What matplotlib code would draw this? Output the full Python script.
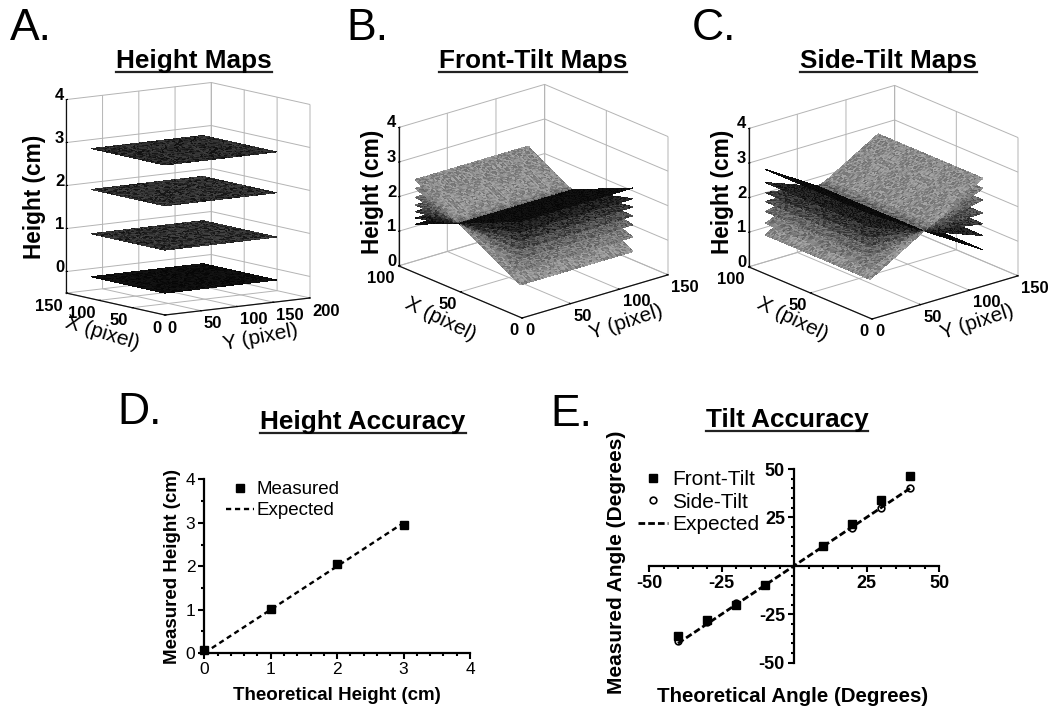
import numpy as np
import matplotlib
matplotlib.use('Agg')
import matplotlib.pyplot as plt
from matplotlib.lines import Line2D
from matplotlib.ticker import MultipleLocator
from mpl_toolkits.mplot3d import proj3d
from mpl_toolkits.mplot3d.art3d import Poly3DCollection

plt.rcParams['font.family'] = ['Liberation Sans', 'DejaVu Sans']
plt.rcParams['axes.unicode_minus'] = False

W, H = 1050, 723

# height maps: one level per plane (cm)
height_levels = [-0.09, 0.91, 1.94, 2.89]
height_shades = [0.05, 0.17, 0.17, 0.15]

# front-tilt maps: height at the low X edge and the high X edge of each plane
front_low = [0.69, 1.11, 1.465, 1.725, 1.98, 2.22, 2.53]
front_high = [2.46, 2.20, 1.945, 1.72, 1.53, 1.34, 1.16]
front_shades = [0.55, 0.48, 0.40, 0.30, 0.2, 0.12, 0.05]

# side-tilt maps: height at the low Y edge and the high Y edge of each plane
side_low = [0.88, 1.22, 1.56, 1.85, 2.11, 2.40, 2.78]
side_high = [2.84, 2.55, 2.21, 1.83, 1.52, 1.18, 0.77]
side_shades = [0.55, 0.48, 0.40, 0.30, 0.2, 0.12, 0.04]

# height accuracy
theoretical_height = [0, 1, 2, 3]
measured_height = [0.08, 1.01, 2.05, 2.96]

# tilt accuracy
theoretical_angle = [-40, -30, -20, -10, 10, 20, 30, 40]
expected_angle = [-40, 40]
front_tilt = [-36, -27.7, -20.3, -10, 10, 21.5, 34, 46.5]
side_tilt = [-39, -29, -19.3, -10, 10, 19.3, 29.8, 40]

# fixed speckle offsets for the grain of the maps (colour only, not heights)
grain = [0.09, -0.07, 0.03, -0.1, 0.12, -0.02, 0.06, -0.12, 0.0, 0.1, -0.05, 0.04, -0.09,
         0.07, -0.11, 0.02, 0.11, -0.04, -0.08, 0.05, 0.01, -0.06, 0.08, -0.03, 0.1, -0.1,
         0.04, -0.01, 0.06]

fig = plt.figure(figsize=(W / 100, H / 100), dpi=100)


def px_text(x, y, s, **kw):
    return fig.text(x / W, 1 - y / H, s, ha=kw.pop('ha', 'center'), va=kw.pop('va', 'center'), **kw)


def title(x, y, s):
    t = px_text(x, y, s, fontsize=18.8, fontweight='bold')
    bb = t.get_window_extent(fig.canvas.get_renderer())
    fig.add_artist(Line2D([bb.x0 / W, bb.x1 / W], [(H - y - 11) / H] * 2, color='#222222', lw=1.6))


def add_planes(ax, xedge, yedge, zfun, shades, n=80):
    polys, colors = [], []
    xs = np.linspace(xedge[0], xedge[1], n + 1)
    ys = np.linspace(yedge[0], yedge[1], n + 1)
    for k, shade in enumerate(shades):
        for i in range(n):
            for j in range(n):
                quad = []
                for a, b in [(i, j), (i + 1, j), (i + 1, j + 1), (i, j + 1)]:
                    quad.append((xs[a], ys[b], zfun(k, xs[a], ys[b])))
                polys.append(quad)
                g = shade + grain[(i * i * 2 + j * j * 3 + i + k * 5) % len(grain)] * min(0.9, shade * 5)
                g = min(max(g, 0), 1)
                colors.append((g, g, g, 1))
    ax.add_collection3d(Poly3DCollection(polys, facecolors=colors, edgecolors='none',
                                         linewidths=0, antialiased=False))


def map_axes(xlim, ylim, zlim, xticks, yticks, view, lengths, front, span):
    # xaxis of the 3d axes is Y (pixel), its yaxis is X (pixel)
    ax = fig.add_axes([0, 0, 0.5, 0.5], projection='3d', proj_type='ortho', computed_zorder=False)
    ax.set_facecolor('none')
    ax.set_xlim(*xlim, view_margin=0)
    ax.set_ylim(*ylim, view_margin=0)
    ax.set_zlim(*zlim, view_margin=0)
    ax.view_init(elev=view[0], azim=view[1])
    ax.set_box_aspect(lengths)
    ax.set_xticks(xticks)
    ax.set_yticks(yticks)
    ax.set_zticks([z for z in range(0, 5)])
    ax.tick_params(labelsize=12, pad=-5)
    ax.tick_params(axis='z', pad=-7)
    for axis in (ax.xaxis, ax.yaxis, ax.zaxis):
        axis.set_pane_color((1, 1, 1, 0))
        axis.pane.set_edgecolor('#b8b8b8')
        axis.pane.set_linewidth(0.8)
        axis.line.set_color('#111111')
        axis.line.set_linewidth(0.9)
        axis._axinfo['grid'].update(color='#b4b4b4', linewidth=0.7)
        axis._axinfo['tick'].update(inward_factor=0.0, outward_factor=0.1)
        for lab in axis.get_ticklabels():
            lab.set_fontweight('bold')
            lab.set_fontfamily(['Liberation Sans Narrow', 'Liberation Sans'])
    for lab in ax.xaxis.get_ticklabels():
        lab.set_ha('left')
    for lab in ax.yaxis.get_ticklabels() + ax.zaxis.get_ticklabels():
        lab.set_ha('right')
    for lab in ax.zaxis.get_ticklabels():
        lab.set_va('baseline')
    ax.zaxis.set_ticks_position('upper')

    # scale and move the axes until the box corners land on the reference pixels
    def corner(x, y, z):
        ax.apply_aspect()
        px, py, _ = proj3d.proj_transform(x, y, z, ax.get_proj())
        return ax.transData.transform((px, py))

    size = 500.0
    for _ in range(3):
        ax.set_position([0.1, 0.1, size / W, size / H])
        p0 = corner(xlim[0], ylim[0], zlim[0])
        p1 = corner(xlim[1], ylim[0], zlim[0])
        size *= span / abs(p1[0] - p0[0])
    ax.set_position([0.1, 0.1, size / W, size / H])
    p0 = corner(xlim[0], ylim[0], zlim[0])
    left = 0.1 * W + front[0] - p0[0]
    bottom = 0.1 * H + (H - front[1]) - p0[1]
    ax.set_position([left / W, bottom / H, size / W, size / H])
    return ax


# panel A
ax_a = map_axes((0, 200), (0, 150), (-0.5, 4), [0, 50, 100, 150, 200], [0, 50, 100, 150],
                (9.3, 234), (178.8, 167.5, 195.6), (165, 315), 145)
add_planes(ax_a, (17, 171), (19, 131), lambda k, x, y: height_levels[k], height_shades, n=60)

# panel B
ax_b = map_axes((0, 150), (0, 100), (0, 4), [0, 50, 100, 150], [0, 50, 100],
                (20.7, 230.1), (190, 192, 147.6), (522, 318), 146)
add_planes(ax_b, (12, 128), (11, 96),
           lambda k, x, y: front_low[k] + (front_high[k] - front_low[k]) * (y - 11) / 85, front_shades)

# panel C
ax_c = map_axes((0, 150), (0, 100), (0, 4), [0, 50, 100, 150], [0, 50, 100],
                (20.7, 230.1), (190, 192, 147.6), (872, 319), 146)
add_planes(ax_c, (12, 128), (11, 96),
           lambda k, x, y: side_low[k] + (side_high[k] - side_low[k]) * (x - 12) / 116, side_shades)

# panel letters and titles
for x, y, s in [(31, 29, 'A.'), (367, 29, 'B.'), (714, 29, 'C.'), (140, 413, 'D.'), (571, 414, 'E.')]:
    px_text(x, y, s, fontsize=32)
title(194, 61, 'Height Maps')
title(533, 61, 'Front-Tilt Maps')
title(888, 61, 'Side-Tilt Maps')
title(363, 422, 'Height Accuracy')
title(787, 420, 'Tilt Accuracy')

for x, y in [(35, 197), (372, 192), (723, 192)]:
    px_text(x, y, 'Height (cm)', fontsize=16.3, fontweight='bold', rotation=90)
px_text(102, 333, 'X (pixel)', fontsize=15, rotation=-17)
px_text(260, 337, 'Y (pixel)', fontsize=15, rotation=11)
px_text(440, 319, 'X (pixel)', fontsize=15, rotation=-26)
px_text(626, 322, 'Y (pixel)', fontsize=15, rotation=18)
px_text(792, 319, 'X (pixel)', fontsize=15, rotation=-26)
px_text(977, 322, 'Y (pixel)', fontsize=15, rotation=18)

# panel D
ax_d = fig.add_axes([204.3 / W, 1 - 653 / H, 265.7 / W, 173.5 / H])
ax_d.plot(theoretical_height, theoretical_height, color='k', ls=(0, (2.2, 1.6)), lw=1.7, label='Expected', clip_on=False)
ax_d.plot(theoretical_height, measured_height, 's', color='k', ms=5.2, label='Measured', clip_on=False, zorder=5)
ax_d.set_xlim(0, 4)
ax_d.set_ylim(0, 4)
ax_d.set_xticks(range(5))
ax_d.set_yticks(range(5))
ax_d.xaxis.set_minor_locator(MultipleLocator(0.2))
ax_d.yaxis.set_minor_locator(MultipleLocator(0.5))
ax_d.spines[['top', 'right']].set_visible(False)
ax_d.spines[['left', 'bottom']].set_linewidth(1.6)
ax_d.tick_params(width=1.5, length=4.5, labelsize=12.5, pad=2)
ax_d.tick_params(which='minor', width=1.5, length=2.5)
ax_d.set_xlabel('Theoretical Height (cm)', fontsize=13.5, fontweight='bold', labelpad=7.5)
ax_d.set_ylabel('Measured Height (cm)', fontsize=13.5, fontweight='bold', labelpad=3)
handles, labels = ax_d.get_legend_handles_labels()
ax_d.legend(handles[::-1], labels[::-1], loc='upper left', bbox_to_anchor=(0.082, 0.99), frameon=False,
            fontsize=13.5, handlelength=1.5, handletextpad=0.12, labelspacing=0.2, borderpad=0, borderaxespad=0)

# panel E
ax_e = fig.add_axes([649 / W, 1 - 662.7 / H, 290 / W, 193.7 / H])
ax_e.plot(theoretical_angle, side_tilt, 'o', mfc='white', mec='k', mew=1.2, ms=4.8, label='Side-Tilt', zorder=3)
ax_e.plot(theoretical_angle, front_tilt, 's', color='k', ms=5.8, label='Front-Tilt', zorder=4, clip_on=False)
ax_e.plot(expected_angle, expected_angle, color='k', ls=(0, (2.4, 1.1)), lw=2.0, label='Expected', zorder=5)
ax_e.set_xlim(-50, 50)
ax_e.set_ylim(-50, 50)
ax_e.set_xticks([-50, -25, 25, 50])
ax_e.set_yticks([-50, -25, 25, 50])
ax_e.xaxis.set_minor_locator(MultipleLocator(5))
ax_e.yaxis.set_minor_locator(MultipleLocator(5))
ax_e.spines[['top', 'right']].set_visible(False)
ax_e.spines['left'].set_position('zero')
ax_e.spines['bottom'].set_position('zero')
ax_e.spines[['left', 'bottom']].set_linewidth(1.6)
ax_e.tick_params(width=1.5, length=4.5, labelsize=13, pad=2)
ax_e.tick_params(which='minor', width=1.5, length=2.5)
for lab in ax_e.get_xticklabels() + ax_e.get_yticklabels():
    lab.set_fontweight('bold')
px_text(793, 697, 'Theoretical Angle (Degrees)', fontsize=14.8, fontweight='bold')
px_text(616, 562, 'Measured Angle (Degrees)', fontsize=15, fontweight='bold', rotation=90)
handles, labels = ax_e.get_legend_handles_labels()
ax_e.legend([handles[1], handles[0], handles[2]], [labels[1], labels[0], labels[2]], loc='upper left',
            bbox_to_anchor=(-0.038, 0.995), frameon=False, fontsize=15, handlelength=1.45,
            handletextpad=0.2, labelspacing=0.17, borderpad=0, borderaxespad=0)

fig.savefig('out.png', dpi=100)
